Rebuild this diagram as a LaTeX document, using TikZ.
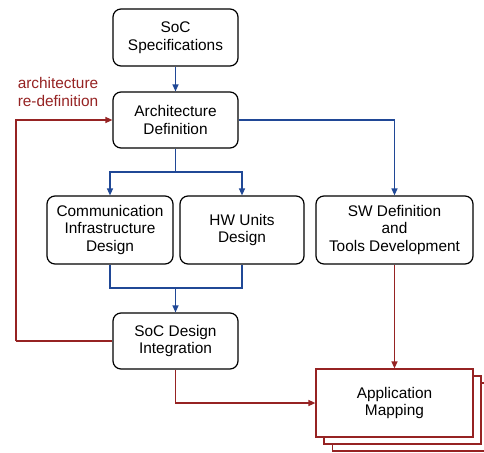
\documentclass[tikz,border=0pt]{standalone}
\usepackage{fontspec}
\setmainfont{Liberation Sans}
\usetikzlibrary{arrows.meta}
\definecolor{bl}{RGB}{32,72,150}
\definecolor{rd}{RGB}{150,35,35}
\begin{document}
\begin{tikzpicture}[x=1pt,y=-1pt,
  txt/.style={font=\fontsize{15.4}{17.6}\selectfont, align=center},
  box/.style={txt, draw=black, line width=1.2pt, rounded corners=8pt, fill=white, inner sep=0pt},
  appbox/.style={txt, draw=rd, line width=1.2pt, fill=white, inner sep=0pt, minimum width=157pt, minimum height=68pt},
  blline/.style={draw=bl, line width=1.3pt},
  blarrow/.style={blline, -{Triangle[width=6pt,length=7pt]}},
  rdline/.style={draw=rd, line width=1.3pt},
  rdarrow/.style={rdline, -{Triangle[width=6pt,length=7pt]}}]
\useasboundingbox (0,0) rectangle (484,452);
\fill[white] (0,0) rectangle (484,452);
% nodes
\node[box, minimum width=125pt, minimum height=57pt] (spec) at (175.5,37.5) {SoC\\Specifications};
\node[box, minimum width=125pt, minimum height=56pt] (arch) at (175.5,120) {Architecture\\Definition};
\node[box, minimum width=126pt, minimum height=68pt] (comm) at (110,230) {Communication\\Infrastructure\\Design};
\node[box, minimum width=124pt, minimum height=68pt] (hw) at (242,230) {HW Units\\Design};
\node[box, minimum width=157pt, minimum height=68pt] (sw) at (394.5,230) {SW Definition\\and\\Tools Development};
\node[box, minimum width=125pt, minimum height=56pt] (integ) at (175.5,341) {SoC Design\\Integration};
\node[appbox] (app3) at (411,417) {};
\node[appbox] (app2) at (402.5,410) {};
\node[appbox] (app) at (394.5,403) {Application\\Mapping};
\node[txt, text=rd] (lbl) at (58,92) {architecture\\re-definition};
% coordinates
\coordinate (b1) at (175.5,172);
\coordinate (b2) at (175.5,288);
\coordinate (l1) at (16,341);
% connectors
\draw[blarrow] (spec) -- (arch);
\draw[blline] (arch.south) -- (b1);
\draw[blarrow] (b1) -| (comm.north);
\draw[blarrow] (b1) -| (hw.north);
\draw[blarrow] (arch.east) -| (sw.north);
\draw[blline] (comm.south) |- (b2) -| (hw.south);
\draw[blarrow] (b2) -- (integ.north);
\draw[rdline] (integ.west) -- (l1);
\draw[rdarrow] (l1) |- (arch.west);
\draw[rdarrow] (integ.south) |- (app.west);
\draw[rdarrow] (sw.south) -- (app.north);
\end{tikzpicture}
\end{document}
